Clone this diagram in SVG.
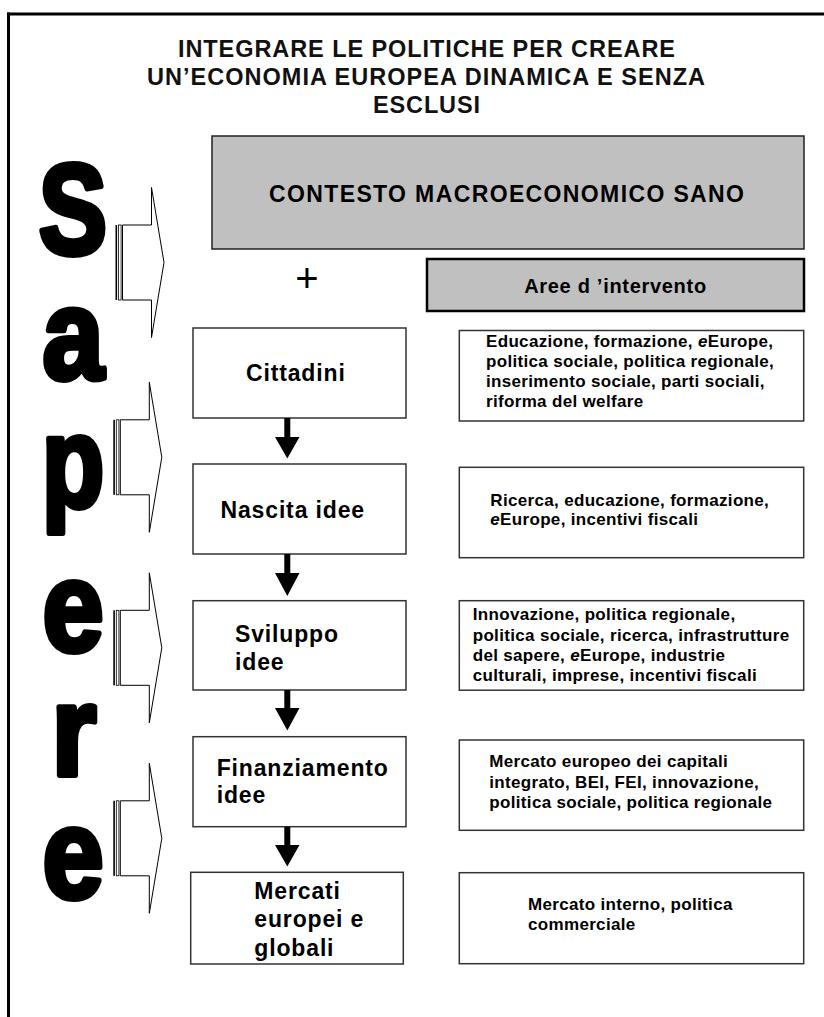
<svg xmlns="http://www.w3.org/2000/svg" width="824" height="1017" viewBox="0 0 824 1017">
<style>
  text { font-family: "Liberation Sans", Arial, sans-serif; fill: #000; }
  .title { font-size: 23.5px; font-weight: bold; fill: #111; }
  .big { font-size: 128px; font-weight: bold; stroke: #000; stroke-width: 6; stroke-linejoin: round; text-anchor: middle; }
  .box { fill: #fff; stroke: #333; stroke-width: 1.5; }
  .gray { fill: #c0c0c0; stroke: #222; stroke-width: 1.5; }
  .lbl { font-size: 23px; font-weight: bold; letter-spacing: 0.85px; }
  .desc { font-size: 17px; font-weight: bold; letter-spacing: 0.33px; }
  .barrow { fill: #fff; stroke: #000; stroke-width: 1; stroke-linejoin: miter; }
  .stripe { fill: #fff; stroke: #000; stroke-width: 0.8; }
  .darr { fill: #000; }
</style>
<defs>
  <g id="striped-arrow">
    <rect x="0" y="37.5" width="1.6" height="75" fill="#000"/>
    <rect x="3" y="37.5" width="2.6" height="75" class="stripe"/>
    <path d="M7,37.5 H36 V0 L48.5,75 L36,150 V112.5 H7 Z" class="barrow"/>
  </g>
</defs>

<g id="frame">
  <line x1="7" y1="14" x2="824" y2="14" stroke="#000" stroke-width="3"/>
  <line x1="8.5" y1="12.5" x2="8.5" y2="1017" stroke="#000" stroke-width="3"/>
</g>

<g id="title">
  <text class="title" x="178" y="56.5" textLength="497" lengthAdjust="spacing">INTEGRARE LE POLITICHE PER CREARE</text>
  <text class="title" x="147" y="84.5" textLength="558" lengthAdjust="spacing">UN’ECONOMIA EUROPEA DINAMICA E SENZA</text>
  <text class="title" x="373" y="113" textLength="107" lengthAdjust="spacing">ESCLUSI</text>
</g>

<g id="sapere">
  <text class="big" transform="translate(73,254) scale(0.8,1)" x="0" y="0">S</text>
  <text class="big" transform="translate(73,379) scale(0.86,1)" x="0" y="0">a</text>
  <text class="big" transform="translate(73,506) scale(0.8,1)" x="0" y="0">p</text>
  <text class="big" transform="translate(73,651) scale(0.86,1)" x="0" y="0">e</text>
  <text class="big" transform="translate(74,775) scale(0.9,1)" x="0" y="0">r</text>
  <text class="big" transform="translate(73,898) scale(0.86,1)" x="0" y="0">e</text>
</g>

<g id="sapere-arrows">
  <use href="#striped-arrow" transform="translate(115.5,187.5)"/>
  <use href="#striped-arrow" transform="translate(113.3,382.3)"/>
  <use href="#striped-arrow" transform="translate(113.3,572.8)"/>
  <use href="#striped-arrow" transform="translate(113.3,763.3)"/>
</g>

<g id="contesto">
  <rect x="212" y="136" width="592" height="113" class="gray"/>
  <text x="269" y="202" font-size="23" font-weight="bold" textLength="475" lengthAdjust="spacing">CONTESTO MACROECONOMICO SANO</text>
</g>

<g id="plus">
  <text x="307" y="292" font-size="40" text-anchor="middle">+</text>
</g>

<g id="aree">
  <rect x="427" y="259" width="377" height="52" fill="#c0c0c0" stroke="#000" stroke-width="2.5"/>
  <text x="615.5" y="292.5" font-size="20" font-weight="bold" letter-spacing="0.7" text-anchor="middle">Aree d ’intervento</text>
</g>

<g id="cittadini">
  <rect x="193" y="328" width="213" height="90" class="box"/>
  <text class="lbl" x="246" y="380.5">Cittadini</text>
</g>
<g id="nascita">
  <rect x="193" y="464" width="213" height="90" class="box"/>
  <text class="lbl" x="220.5" y="518.3">Nascita idee</text>
</g>
<g id="sviluppo">
  <rect x="193" y="600.7" width="213" height="89.3" class="box"/>
  <text class="lbl" x="235" y="641.7">Sviluppo</text>
  <text class="lbl" x="235" y="670">idee</text>
</g>
<g id="finanziamento">
  <rect x="193" y="736.7" width="213" height="90" class="box"/>
  <text class="lbl" x="216.7" y="775.7">Finanziamento</text>
  <text class="lbl" x="216.7" y="803.3">idee</text>
</g>
<g id="mercati">
  <rect x="190.7" y="872.3" width="212.6" height="91.7" class="box"/>
  <text class="lbl" x="254.3" y="899">Mercati</text>
  <text class="lbl" x="254.3" y="927.3">europei e</text>
  <text class="lbl" x="254.3" y="956">globali</text>
</g>

<g id="aree1">
  <rect x="459.3" y="330.5" width="344.4" height="90.5" class="box"/>
  <text class="desc" x="486" y="346.5">Educazione, formazione, <tspan font-style="italic">e</tspan>Europe,</text>
  <text class="desc" x="486" y="366.5">politica sociale, politica regionale,</text>
  <text class="desc" x="486" y="386.5">inserimento sociale, parti sociali,</text>
  <text class="desc" x="486" y="406.5">riforma del welfare</text>
</g>
<g id="aree2">
  <rect x="459.3" y="467.3" width="344.4" height="90.4" class="box"/>
  <text class="desc" x="490.3" y="505.7">Ricerca, educazione, formazione,</text>
  <text class="desc" x="490.3" y="525.2"><tspan font-style="italic">e</tspan>Europe, incentivi fiscali</text>
</g>
<g id="aree3">
  <rect x="459.3" y="600.7" width="344.4" height="89.5" class="box"/>
  <text class="desc" x="472.7" y="620">Innovazione, politica regionale,</text>
  <text class="desc" x="472.7" y="640.5">politica sociale, ricerca, infrastrutture</text>
  <text class="desc" x="472.7" y="660.5">del sapere, <tspan font-style="italic">e</tspan>Europe, industrie</text>
  <text class="desc" x="472.7" y="680.5">culturali, imprese, incentivi fiscali</text>
</g>
<g id="aree4">
  <rect x="459.3" y="740" width="344.4" height="90.3" class="box"/>
  <text class="desc" x="489.3" y="767.3">Mercato europeo dei capitali</text>
  <text class="desc" x="489.3" y="788">integrato, BEI, FEI, innovazione,</text>
  <text class="desc" x="489.3" y="808.2">politica sociale, politica regionale</text>
</g>
<g id="aree5">
  <rect x="459.3" y="872.7" width="344.4" height="91" class="box"/>
  <text class="desc" x="528" y="910">Mercato interno, politica</text>
  <text class="desc" x="528" y="930">commerciale</text>
</g>

<g id="connectors">
  <path class="darr" d="M284.3,418 H290.3 V437 H299.5 L287.3,458.5 L275,437 H284.3 Z"/>
  <path class="darr" d="M284.3,554 H290.3 V573 H299.5 L287.3,596 L275,573 H284.3 Z"/>
  <path class="darr" d="M284.3,690 H290.3 V708 H299.5 L287.3,730.5 L275,708 H284.3 Z"/>
  <path class="darr" d="M284.3,826.7 H290.3 V845 H299.5 L287.3,866.5 L275,845 H284.3 Z"/>
</g>
</svg>
